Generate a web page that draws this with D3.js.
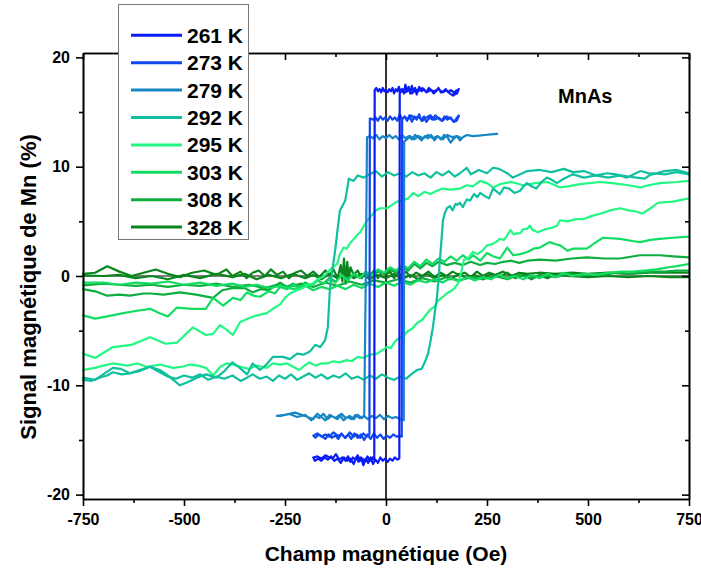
<!DOCTYPE html>
<html><head><meta charset="utf-8">
<script src="https://cdn.jsdelivr.net/npm/d3@7"></script>
<style>body{margin:0;background:#fff}svg{display:block}</style>
</head><body>
<svg id="c" width="701" height="573"></svg>
<script>
// ---- data ----
const temps = ["261 K","273 K","279 K","292 K","295 K","303 K","308 K","328 K"];
const xTicks = [-750,-500,-250,0,250,500,750];
const yTicks = [-20,-10,0,10,20];

const loop261 = [[180,17.1],[176,16.7],[170,16.6],[165,16.9],[160,17.0],[154,16.8],[148,17.1],[142,16.9],[136,16.8],[130,17.2],[124,16.9],[118,16.7],[112,17.0],[106,17.2],[100,16.8],[94,17.1],[88,16.9],[82,17.3],[76,16.6],[72,17.2],[68,16.8],[64,17.4],[60,16.7],[56,17.3],[52,16.9],[48,17.5],[44,16.7],[40,17.1],[36,16.8],[32,17.3],[28,16.9],[24,17.1],[20,16.7],[16,17.2],[12,16.9],[8,17.1],[4,16.8],[0,17.0],[-4,16.9],[-8,17.2],[-12,16.8],[-16,17.1],[-20,16.9],[-24,17.2],[-28,17.0],[-29,-16.8],[-34,-16.6],[-40,-16.9],[-46,-16.5],[-52,-17.0],[-58,-16.7],[-64,-16.9],[-70,-16.4],[-76,-16.8],[-82,-16.6],[-88,-17.0],[-94,-16.5],[-100,-16.9],[-108,-16.6],[-116,-16.8],[-124,-16.3],[-132,-16.7],[-140,-16.6],[-150,-16.4],[-160,-16.7],[-170,-16.5],[-180,-16.6],[-176,-16.9],[-168,-16.7],[-160,-16.9],[-152,-16.6],[-144,-16.8],[-136,-16.5],[-128,-16.9],[-120,-16.7],[-112,-17.1],[-104,-16.6],[-96,-16.9],[-88,-16.7],[-80,-17.2],[-74,-16.6],[-68,-17.0],[-62,-16.6],[-56,-17.3],[-50,-16.7],[-44,-17.1],[-38,-16.6],[-32,-17.2],[-26,-16.8],[-20,-17.1],[-14,-16.6],[-8,-16.9],[-2,-16.7],[4,-17.0],[10,-16.7],[16,-16.9],[22,-16.6],[28,-16.8],[33,-16.7],[34,16.9],[40,17.1],[48,16.8],[56,17.0],[64,16.7],[72,17.1],[80,16.9],[90,17.2],[100,16.8],[110,17.0],[120,16.9],[130,17.1],[140,16.8],[150,17.0],[158,16.7],[166,16.5],[172,16.9],[180,17.1]];

const loop273 = [[180,14.6],[175,14.2],[168,14.1],[160,14.5],[152,14.3],[145,14.6],[138,14.2],[130,14.4],[122,14.7],[115,14.3],[108,14.5],[100,14.1],[94,14.6],[88,14.2],[82,14.8],[76,14.3],[70,14.6],[64,14.1],[58,14.7],[52,14.2],[46,14.6],[40,14.3],[34,14.8],[28,14.2],[22,14.5],[16,14.3],[10,14.6],[4,14.2],[-2,14.5],[-8,14.3],[-14,14.6],[-20,14.2],[-26,14.5],[-32,14.3],[-38,14.4],[-40,14.4],[-41,-14.5],[-48,-14.7],[-56,-14.4],[-64,-14.8],[-72,-14.5],[-80,-14.7],[-90,-14.3],[-100,-14.8],[-110,-14.5],[-120,-14.6],[-130,-14.3],[-140,-14.7],[-150,-14.5],[-160,-14.7],[-170,-14.4],[-180,-14.6],[-175,-14.8],[-166,-14.5],[-158,-14.7],[-150,-14.9],[-142,-14.5],[-134,-14.8],[-126,-14.6],[-118,-14.9],[-110,-14.4],[-102,-14.8],[-94,-14.5],[-86,-14.9],[-78,-14.4],[-70,-14.8],[-62,-14.5],[-54,-15.0],[-46,-14.5],[-38,-14.9],[-30,-14.4],[-22,-14.8],[-14,-14.5],[-6,-14.9],[2,-14.6],[10,-14.8],[18,-14.5],[26,-14.7],[34,-14.6],[39,-14.7],[40,14.3],[46,14.6],[54,14.3],[62,14.7],[70,14.4],[80,14.6],[90,14.2],[100,14.5],[110,14.7],[120,14.3],[130,14.5],[140,14.2],[150,14.6],[160,14.4],[168,14.1],[174,14.4],[180,14.7]];

const loop279 = [[275,13.0],[260,12.95],[245,12.9],[230,12.85],[215,12.8],[200,12.9],[190,12.7],[183,12.4],[176,12.8],[168,12.6],[160,12.2],[152,12.7],[144,12.9],[136,12.5],[128,12.8],[120,12.4],[112,12.9],[104,12.6],[96,12.8],[88,12.4],[80,12.7],[72,12.9],[64,12.5],[56,12.8],[48,12.6],[40,12.9],[32,12.5],[24,12.8],[16,12.6],[8,12.9],[0,12.6],[-8,12.8],[-16,12.5],[-24,12.9],[-32,12.6],[-40,12.8],[-47,12.7],[-50,0],[-54,-12.8],[-60,-13.0],[-70,-12.7],[-80,-13.1],[-90,-12.8],[-100,-13.0],[-110,-12.6],[-120,-13.1],[-130,-12.9],[-140,-12.7],[-150,-13.2],[-160,-12.9],[-170,-12.6],[-180,-13.1],[-200,-12.8],[-225,-12.5],[-250,-12.7],[-270,-12.8],[-260,-12.8],[-240,-12.6],[-220,-12.9],[-200,-12.7],[-185,-13.2],[-175,-12.8],[-165,-13.0],[-155,-12.6],[-145,-13.1],[-135,-12.8],[-125,-13.0],[-115,-12.7],[-105,-13.2],[-95,-12.9],[-85,-13.1],[-75,-12.7],[-65,-13.0],[-55,-12.8],[-45,-13.1],[-35,-12.8],[-25,-13.0],[-15,-12.7],[-5,-13.1],[5,-12.8],[15,-13.0],[25,-12.9],[35,-13.1],[44,-13.2],[45,12.3],[52,12.5],[60,12.8],[70,12.5],[80,12.8],[92,12.6],[104,12.9],[116,12.6],[128,12.8],[140,12.5],[152,12.9],[164,12.7],[176,12.8],[186,12.6]];

const dn292 = [[750,9.4],[720,9.7],[690,9.6],[660,9.3],[630,9.6],[596,9.0],[570,9.3],[547,9.4],[520,9.2],[490,9.6],[463,9.5],[440,9.8],[410,9.5],[380,9.7],[350,9.6],[314,9.0],[300,9.4],[280,9.8],[265,9.9],[250,9.4],[230,9.7],[210,9.3],[200,9.9],[183,9.4],[170,9.1],[155,9.6],[140,9.2],[125,9.5],[110,9.0],[95,9.4],[80,9.2],[65,9.5],[50,9.1],[35,9.4],[20,9.2],[5,9.5],[-10,9.1],[-25,9.6],[-40,9.3],[-55,9.0],[-70,9.2],[-80,8.7],[-92,8.9],[-101,6.9],[-108,6.4],[-114,6.0],[-120,4.2],[-126,2.3],[-133,0.5],[-139,-1.3],[-144,-4.7],[-151,-5.9],[-163,-6.5],[-175,-6.3],[-188,-6.9],[-205,-7.2],[-220,-7.1],[-238,-7.6],[-255,-7.4],[-280,-7.4],[-296,-8.1],[-312,-8.6],[-330,-8.0],[-344,-9.0],[-362,-8.4],[-380,-7.9],[-400,-8.7],[-420,-9.3],[-445,-9.0],[-468,-9.3],[-490,-9.7],[-510,-10.0],[-540,-9.1],[-560,-8.6],[-584,-8.3],[-610,-8.7],[-634,-8.9],[-656,-8.5],[-676,-8.4],[-700,-9.0],[-720,-9.5],[-750,-9.3]];
const up292 = [[-750,-9.5],[-730,-9.6],[-710,-9.3],[-690,-9.1],[-676,-8.8],[-655,-9.0],[-634,-8.9],[-610,-8.6],[-584,-8.3],[-560,-8.8],[-540,-9.2],[-520,-9.4],[-500,-9.1],[-480,-9.3],[-460,-9.0],[-440,-9.5],[-420,-9.2],[-400,-9.4],[-380,-9.1],[-360,-9.6],[-344,-9.3],[-330,-9.0],[-312,-9.4],[-295,-9.2],[-280,-9.6],[-265,-9.1],[-250,-9.4],[-235,-9.0],[-220,-9.5],[-205,-9.2],[-190,-8.9],[-175,-9.3],[-160,-9.0],[-145,-9.4],[-130,-9.1],[-115,-9.3],[-100,-8.9],[-85,-9.4],[-70,-9.2],[-55,-9.5],[-40,-9.1],[-25,-9.4],[-10,-9.0],[5,-9.3],[20,-9.5],[35,-9.2],[50,-9.4],[62,-9.0],[77,-8.6],[88,-8.5],[96,-7.9],[104,-7.1],[110,-6.0],[116,-4.7],[121,-3.3],[126,-2.0],[130,-0.2],[134,1.7],[138,3.6],[141,5.1],[146,5.8],[151,6.2],[158,6.4],[165,6.0],[172,6.6],[176,6.5],[183,6.7],[190,6.3],[200,7.0],[208,6.9],[218,7.5],[226,7.2],[233,7.6],[245,7.3],[255,7.1],[265,8.0],[275,7.7],[282,7.5],[292,8.1],[305,8.0],[318,7.6],[332,7.8],[340,8.2],[349,8.5],[360,8.2],[372,8.0],[385,8.6],[398,9.0],[410,8.8],[423,8.5],[440,8.9],[463,9.3],[490,9.0],[520,9.2],[550,9.0],[579,9.2],[600,9.1],[620,9.0],[640,8.9],[660,9.4],[690,9.3],[720,9.5],[750,9.3]];

const dn295 = [[750,8.7],[720,8.6],[678,8.5],[650,8.3],[629,8.1],[600,8.3],[560,8.5],[530,8.6],[480,8.4],[450,8.2],[431,8.1],[400,8.6],[370,8.5],[340,8.3],[310,8.6],[282,8.4],[265,8.1],[250,8.5],[233,8.7],[215,8.2],[200,8.3],[183,8.0],[160,7.9],[140,8.0],[126,7.8],[110,7.5],[95,7.7],[80,7.3],[67,7.6],[55,7.1],[42,6.9],[27,6.8],[15,6.5],[2,6.2],[-15,6.2],[-25,6.0],[-32,5.7],[-48,5.0],[-64,4.0],[-75,3.6],[-89,3.0],[-97,2.5],[-105,2.6],[-114,2.0],[-121,1.1],[-135,0.7],[-156,-0.1],[-170,-0.3],[-181,-0.7],[-195,-0.8],[-205,-1.1],[-220,-1.3],[-238,-1.6],[-250,-2.0],[-262,-2.6],[-280,-3.0],[-295,-3.4],[-329,-3.7],[-361,-4.2],[-379,-5.4],[-395,-4.9],[-411,-4.5],[-428,-5.3],[-446,-5.4],[-478,-4.7],[-518,-6.1],[-545,-6.2],[-584,-5.6],[-630,-6.3],[-676,-6.5],[-720,-7.5],[-750,-7.1]];
const up295 = [[-750,-8.6],[-735,-8.5],[-720,-8.4],[-700,-8.2],[-676,-8.0],[-656,-8.1],[-640,-8.2],[-615,-8.0],[-592,-8.3],[-560,-8.1],[-527,-8.4],[-505,-8.3],[-485,-8.1],[-465,-8.2],[-446,-8.4],[-428,-9.1],[-410,-8.3],[-395,-8.0],[-379,-8.1],[-360,-8.3],[-340,-8.5],[-320,-8.2],[-295,-8.4],[-280,-8.0],[-262,-8.1],[-245,-8.0],[-230,-8.3],[-215,-8.6],[-205,-8.3],[-190,-7.9],[-175,-8.2],[-160,-8.0],[-146,-8.0],[-130,-7.8],[-115,-7.9],[-97,-7.7],[-85,-7.8],[-70,-7.4],[-57,-7.5],[-40,-7.2],[-22,-7.1],[-10,-6.8],[2,-6.5],[12,-6.6],[22,-6.0],[35,-5.6],[44,-5.5],[52,-5.1],[65,-4.8],[77,-4.3],[90,-4.0],[100,-3.5],[109,-3.1],[120,-2.8],[130,-2.2],[141,-1.9],[150,-1.6],[160,-1.4],[170,-1.1],[178,-0.7],[186,0.3],[193,1.5],[203,1.6],[215,2.2],[226,2.0],[238,2.3],[250,2.8],[262,2.9],[272,3.1],[282,3.4],[292,3.3],[300,3.7],[308,4.2],[316,3.8],[324,3.9],[332,3.9],[340,4.3],[349,4.3],[356,4.6],[363,4.2],[376,4.0],[395,4.3],[410,4.4],[423,4.6],[431,5.1],[450,5.0],[470,5.2],[488,5.2],[510,5.5],[530,5.7],[555,6.0],[579,6.2],[600,6.0],[620,5.9],[634,5.7],[655,6.2],[673,6.7],[710,6.8],[750,7.1]];

const up303 = [[-750,-3.6],[-720,-3.9],[-690,-3.7],[-650,-3.4],[-620,-3.2],[-584,-3.0],[-560,-3.4],[-540,-3.7],[-518,-2.9],[-480,-3.0],[-446,-3.0],[-428,-2.0],[-403,-2.7],[-379,-2.0],[-360,-2.2],[-344,-1.5],[-328,-1.8],[-312,-1.9],[-290,-1.4],[-275,-1.6],[-262,-1.0],[-245,-1.2],[-230,-0.8],[-215,-1.1],[-200,-0.7],[-185,-0.9],[-170,-0.4],[-155,-0.7],[-140,-0.3],[-125,-0.6],[-110,0.1],[-95,-0.4],[-80,0.2],[-65,-0.2],[-50,0.4],[-35,0.1],[-20,0.6],[-5,0.3],[10,0.8],[25,0.5],[40,1.0],[55,0.7],[70,1.3],[85,0.9],[100,1.5],[115,1.1],[130,1.6],[145,1.3],[160,1.8],[175,1.4],[190,1.9],[205,1.5],[215,1.9],[233,1.4],[250,2.1],[265,1.8],[282,1.6],[300,2.6],[315,1.9],[332,2.0],[350,2.2],[365,2.5],[381,2.6],[405,3.1],[420,2.9],[431,2.8],[450,2.3],[463,2.5],[480,2.5],[497,2.5],[520,3.1],[537,3.5],[579,3.4],[610,3.2],[629,3.1],[655,3.3],[678,3.4],[710,3.5],[750,3.6]];
const dn303 = [[750,1.1],[720,0.9],[700,0.8],[670,0.6],[640,0.5],[610,0.4],[580,0.4],[550,0.3],[520,0.1],[490,0.2],[460,0.0],[440,0.3],[420,-0.1],[400,0.2],[380,-0.2],[360,0.1],[340,-0.3],[320,0.0],[300,-0.2],[280,0.1],[260,-0.3],[240,-0.1],[220,-0.4],[200,-0.1],[180,-0.5],[160,-0.2],[140,-0.6],[120,-0.3],[100,-0.6],[80,-0.4],[60,-0.8],[40,-0.5],[20,-0.9],[0,-0.6],[-20,-1.0],[-40,-0.7],[-60,-1.1],[-80,-0.8],[-100,-1.2],[-120,-0.9],[-140,-1.2],[-160,-1.0],[-180,-1.3],[-200,-0.9],[-230,-1.2],[-260,-0.9],[-290,-1.1],[-320,-0.8],[-350,-1.0],[-380,-0.7],[-420,-0.9],[-460,-0.6],[-500,-0.8],[-540,-0.5],[-580,-0.7],[-620,-0.6],[-660,-0.8],[-700,-0.6],[-750,-0.6]];

const up308 = [[-750,-1.2],[-720,-1.4],[-690,-1.8],[-660,-1.7],[-634,-1.8],[-600,-1.6],[-584,-1.6],[-550,-1.7],[-510,-1.5],[-470,-1.7],[-428,-2.0],[-405,-1.3],[-379,-1.1],[-350,-1.1],[-330,-1.5],[-310,-1.2],[-290,-1.3],[-262,-0.6],[-245,-1.0],[-230,-0.7],[-215,-1.0],[-200,-0.6],[-185,-0.9],[-170,-0.4],[-155,-0.7],[-140,-0.2],[-125,-0.5],[-110,0.0],[-95,-0.3],[-80,0.2],[-65,-0.1],[-50,0.3],[-35,0.0],[-20,0.4],[-5,0.2],[10,0.6],[25,0.3],[40,0.8],[55,0.5],[70,1.1],[85,0.7],[100,1.2],[115,0.9],[130,1.3],[150,1.0],[170,1.2],[190,1.0],[210,1.3],[233,1.0],[250,1.2],[270,1.1],[290,1.3],[310,1.4],[330,1.2],[350,1.4],[381,1.5],[420,1.4],[460,1.6],[497,1.7],[540,1.6],[579,1.6],[629,1.9],[678,1.9],[710,1.8],[750,1.7]];
const dn308 = [[750,0.5],[720,0.5],[690,0.4],[660,0.4],[630,0.3],[600,0.2],[570,0.3],[540,0.1],[510,0.2],[480,0.0],[450,0.2],[420,-0.1],[390,0.1],[360,-0.2],[330,0.1],[300,-0.3],[270,0.0],[240,-0.3],[210,-0.1],[180,-0.4],[150,-0.1],[120,-0.5],[90,-0.2],[60,-0.6],[30,-0.3],[0,-0.6],[-30,-0.4],[-60,-0.8],[-90,-0.5],[-120,-0.9],[-150,-0.6],[-180,-1.0],[-210,-0.7],[-240,-1.0],[-270,-0.8],[-300,-1.1],[-340,-0.8],[-380,-1.0],[-420,-0.7],[-460,-0.9],[-500,-0.8],[-540,-1.0],[-580,-0.8],[-620,-0.9],[-660,-0.8],[-700,-0.7],[-750,-0.85]];

const up328 = [[-750,0.2],[-720,0.3],[-690,0.9],[-660,0.4],[-630,0.0],[-600,0.3],[-570,0.6],[-540,0.2],[-510,-0.1],[-480,0.3],[-450,0.5],[-420,0.1],[-395,0.6],[-380,0.0],[-360,0.4],[-345,-0.2],[-330,0.3],[-315,0.5],[-300,0.0],[-285,0.6],[-270,0.1],[-255,0.4],[-240,-0.2],[-225,0.3],[-210,0.5],[-195,0.0],[-180,0.4],[-165,-0.1],[-150,0.5],[-140,0.1],[-130,0.6],[-120,-0.2],[-112,1.0],[-108,-0.5],[-104,1.6],[-100,-0.7],[-96,1.3],[-92,-0.3],[-88,0.8],[-80,0.1],[-70,0.5],[-60,-0.2],[-50,0.4],[-40,0.0],[-30,0.5],[-20,-0.2],[-10,0.3],[0,0.1],[10,0.4],[20,-0.2],[30,0.3],[40,0.0],[50,0.4],[60,-0.1],[75,0.3],[90,0.0],[105,0.4],[120,-0.1],[135,0.3],[150,0.0],[165,0.4],[180,0.1],[195,0.3],[210,-0.1],[225,0.4],[240,0.0],[255,0.3],[270,0.1],[290,0.4],[310,0.0],[330,0.3],[350,0.2],[380,0.3],[420,0.2],[460,0.3],[500,0.2],[550,0.3],[600,0.2],[650,0.3],[700,0.3],[750,0.3]];
const dn328 = [[750,-0.1],[700,-0.1],[650,0.0],[600,-0.1],[550,0.0],[500,-0.1],[450,0.0],[420,0.2],[400,-0.2],[380,0.1],[360,-0.3],[340,0.2],[320,-0.2],[300,0.3],[280,-0.1],[260,0.2],[240,-0.3],[220,0.1],[200,-0.2],[180,0.2],[160,-0.3],[140,0.1],[120,-0.2],[100,0.2],[80,-0.3],[60,0.1],[40,-0.3],[20,0.2],[0,-0.2],[-20,0.1],[-40,-0.3],[-60,0.2],[-80,-0.2],[-100,0.3],[-120,-0.2],[-140,0.2],[-160,-0.3],[-180,0.1],[-200,-0.2],[-230,0.2],[-260,-0.2],[-290,0.1],[-320,-0.3],[-350,0.2],[-380,-0.1],[-420,0.2],[-460,-0.2],[-500,0.1],[-540,-0.3],[-580,0.0],[-620,-0.2],[-660,0.1],[-700,0.0],[-750,0.05]];

const branches = {
  "261 K":[loop261], "273 K":[loop273], "279 K":[loop279],
  "292 K":[dn292, up292], "295 K":[dn295, up295],
  "303 K":[up303, dn303], "308 K":[up308, dn308], "328 K":[up328, dn328]
};

// ---- styles ----
const colors = {"261 K":"#0a1cf5","273 K":"#0f48ef","279 K":"#1886c6","292 K":"#0fbf9e",
  "295 K":"#22f883","303 K":"#12dc62","308 K":"#0eae3e","328 K":"#0a861c"};

const svg = d3.select("#c");
const L=83, R=689, T=53, B=499;
const x = d3.scaleLinear().domain([-750,750]).range([L,R]);
const y = d3.scaleLinear().domain([-20.4,20.4]).range([B,T]);
const font = "'Liberation Sans', Arial, sans-serif";

// zero reference lines
svg.append("line").attr("x1",L).attr("x2",R).attr("y1",y(0)).attr("y2",y(0))
  .attr("stroke","#000").attr("stroke-width",1.2);
svg.append("line").attr("x1",x(0)).attr("x2",x(0)).attr("y1",T).attr("y2",B)
  .attr("stroke","#000").attr("stroke-width",1.6);

// curves (drawn last temp first so blue on top)
const line = d3.line().x(d=>x(d[0])).y(d=>y(d[1]));
const g = svg.append("g").attr("fill","none").attr("stroke-width",2.2)
  .attr("stroke-linejoin","round").attr("stroke-linecap","round");
temps.slice().reverse().forEach(t => {
  branches[t].forEach(b => {
    g.append("path").attr("d", line(b)).attr("stroke", colors[t]);
  });
});

// axes
const minorX = d3.range(-625, 750, 250);
const minorY = [-15,-5,5,15];
function styleAxis(sel){
  sel.selectAll(".domain").attr("stroke","#000").attr("stroke-width",1.6);
  sel.selectAll(".tick line").attr("stroke","#000").attr("stroke-width",1.6);
  sel.selectAll("text").attr("font-family",font).attr("font-weight","bold")
     .attr("font-size",16).attr("fill","#000");
}
const fmt = d => String(d);
svg.append("g").attr("transform",`translate(0,${B})`)
  .call(d3.axisBottom(x).tickValues(xTicks).tickFormat(fmt).tickSize(7).tickSizeOuter(0).tickPadding(8))
  .call(styleAxis);
svg.append("g").attr("transform",`translate(0,${B})`)
  .call(d3.axisBottom(x).tickValues(minorX).tickFormat("").tickSize(4).tickSizeOuter(0))
  .call(styleAxis);
svg.append("g").attr("transform",`translate(0,${T})`)
  .call(d3.axisBottom(x).tickValues(xTicks).tickFormat("").tickSize(7).tickSizeOuter(0))
  .call(styleAxis);
svg.append("g").attr("transform",`translate(0,${T})`)
  .call(d3.axisBottom(x).tickValues(minorX).tickFormat("").tickSize(4).tickSizeOuter(0))
  .call(styleAxis);
svg.append("g").attr("transform",`translate(${L},0)`)
  .call(d3.axisLeft(y).tickValues(yTicks).tickFormat(fmt).tickSize(7).tickSizeOuter(0).tickPadding(6))
  .call(styleAxis);
svg.append("g").attr("transform",`translate(${L},0)`)
  .call(d3.axisLeft(y).tickValues(minorY).tickFormat("").tickSize(4).tickSizeOuter(0))
  .call(styleAxis);
svg.append("g").attr("transform",`translate(${R},0)`)
  .call(d3.axisLeft(y).tickValues(yTicks).tickFormat("").tickSize(7).tickSizeOuter(0))
  .call(styleAxis);
svg.append("g").attr("transform",`translate(${R},0)`)
  .call(d3.axisLeft(y).tickValues(minorY).tickFormat("").tickSize(4).tickSizeOuter(0))
  .call(styleAxis);

// axis titles
svg.append("text").attr("x",(L+R)/2).attr("y",561).attr("text-anchor","middle")
  .attr("font-family",font).attr("font-weight","bold").attr("font-size",21)
  .text("Champ magnétique (Oe)");
svg.append("text").attr("transform","translate(36,287) rotate(-90)").attr("text-anchor","middle")
  .attr("font-family",font).attr("font-weight","bold").attr("font-size",22)
  .text("Signal magnétique de Mn (%)");

// annotation
svg.append("text").attr("x",558).attr("y",103).attr("font-family",font)
  .attr("font-weight","bold").attr("font-size",20).text("MnAs");

// legend
const lg = svg.append("g");
lg.append("rect").attr("x",118.5).attr("y",4.5).attr("width",130).attr("height",235)
  .attr("fill","#fff").attr("stroke","#777").attr("stroke-width",1);
temps.forEach((t,i) => {
  const yy = 35.3 + i*27.4;
  lg.append("line").attr("x1",131).attr("x2",182).attr("y1",yy).attr("y2",yy)
    .attr("stroke",colors[t]).attr("stroke-width",3);
  lg.append("text").attr("x",187).attr("y",yy+7.5).attr("font-family",font)
    .attr("font-weight","bold").attr("font-size",21).text(t);
});
</script>
</body></html>
